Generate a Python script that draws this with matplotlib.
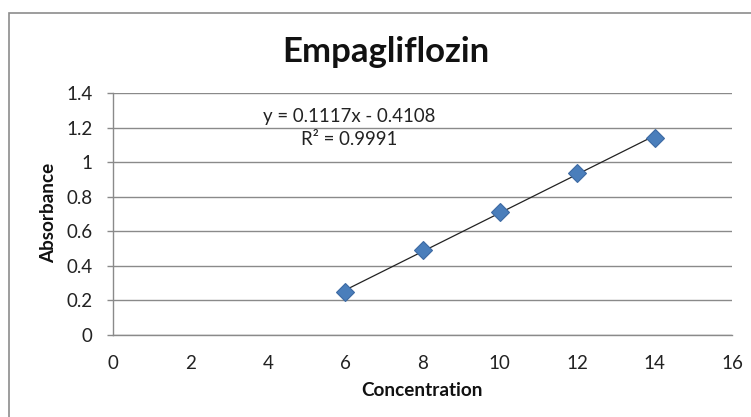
import numpy as np
import matplotlib.pyplot as plt
from matplotlib.patches import Rectangle

# calibration data
concentration = [6, 8, 10, 12, 14]
absorbance = [0.25, 0.49, 0.71, 0.94, 1.14]
slope = 0.1117
intercept = -0.4108
r_squared = 0.9991

x_ticks = [0, 2, 4, 6, 8, 10, 12, 14, 16]
y_ticks = [0, 0.2, 0.4, 0.6, 0.8, 1, 1.2, 1.4]
y_tick_labels = ['0', '0.2', '0.4', '0.6', '0.8', '1', '1.2', '1.4']

plt.rcParams['font.family'] = ['Lato', 'DejaVu Sans']

W, H = 751, 417
fig = plt.figure(figsize=(W/100, H/100), dpi=100)
ax = fig.add_axes([113/W, 1-335/H, (732-113)/W, (335-93)/H])

# outer chart border (cut off at right and bottom in the reference)
fig.patches.append(Rectangle((9/W, -0.1), 1.2, 1.1 - 13/H,
                             transform=fig.transFigure, fill=False,
                             edgecolor='#8c8c8c', linewidth=1.2))

ax.set_xlim(0, 16)
ax.set_ylim(0, 1.4)
ax.set_xticks(x_ticks)
ax.set_yticks(y_ticks)
ax.set_yticklabels(y_tick_labels)
ax.tick_params(labelsize=13.5, labelcolor='#222222')
ax.tick_params(axis='x', length=0, pad=14.5)
ax.tick_params(axis='y', length=4, width=1, color='#8a8a8a', pad=10.5)

ax.grid(axis='y', color='#8a8a8a', linewidth=1)
ax.set_axisbelow(True)
for side in ['top', 'right']:
    ax.spines[side].set_visible(False)
for side in ['left', 'bottom']:
    ax.spines[side].set_color('#8a8a8a')
    ax.spines[side].set_linewidth(1)

# linear trendline over the data range
fit_x = np.array([concentration[0], concentration[-1]])
ax.plot(fit_x, slope * fit_x + intercept, color='#222222', linewidth=0.9, zorder=3)
ax.plot(concentration, absorbance, linestyle='none', marker='D', markersize=9.5,
        markerfacecolor='#4a7ebb', markeredgecolor='#3d6aa3', markeredgewidth=0.8, zorder=4)

ax.text(6.1, 1.265, 'y = %.4fx - %.4f' % (slope, -intercept), ha='center', va='center',
        fontsize=13.4, color='#222222')
ax.text(6.1, 1.13, 'R\u00b2 = %.4f' % r_squared, ha='center', va='center',
        fontsize=13.4, color='#222222')

fig.text(386/W, 1-52/H, 'Empagliflozin', ha='center', va='center',
         fontsize=25, fontweight='bold', color='#111111')
fig.text(422/W, 1-390/H, 'Concentration', ha='center', va='center',
         fontsize=13.6, fontweight='bold', color='#111111')
fig.text(49/W, 1-213/H, 'Absorbance', ha='center', va='center', rotation=90,
         fontsize=13.6, fontweight='bold', color='#111111')

fig.savefig('out.png', dpi=100)
